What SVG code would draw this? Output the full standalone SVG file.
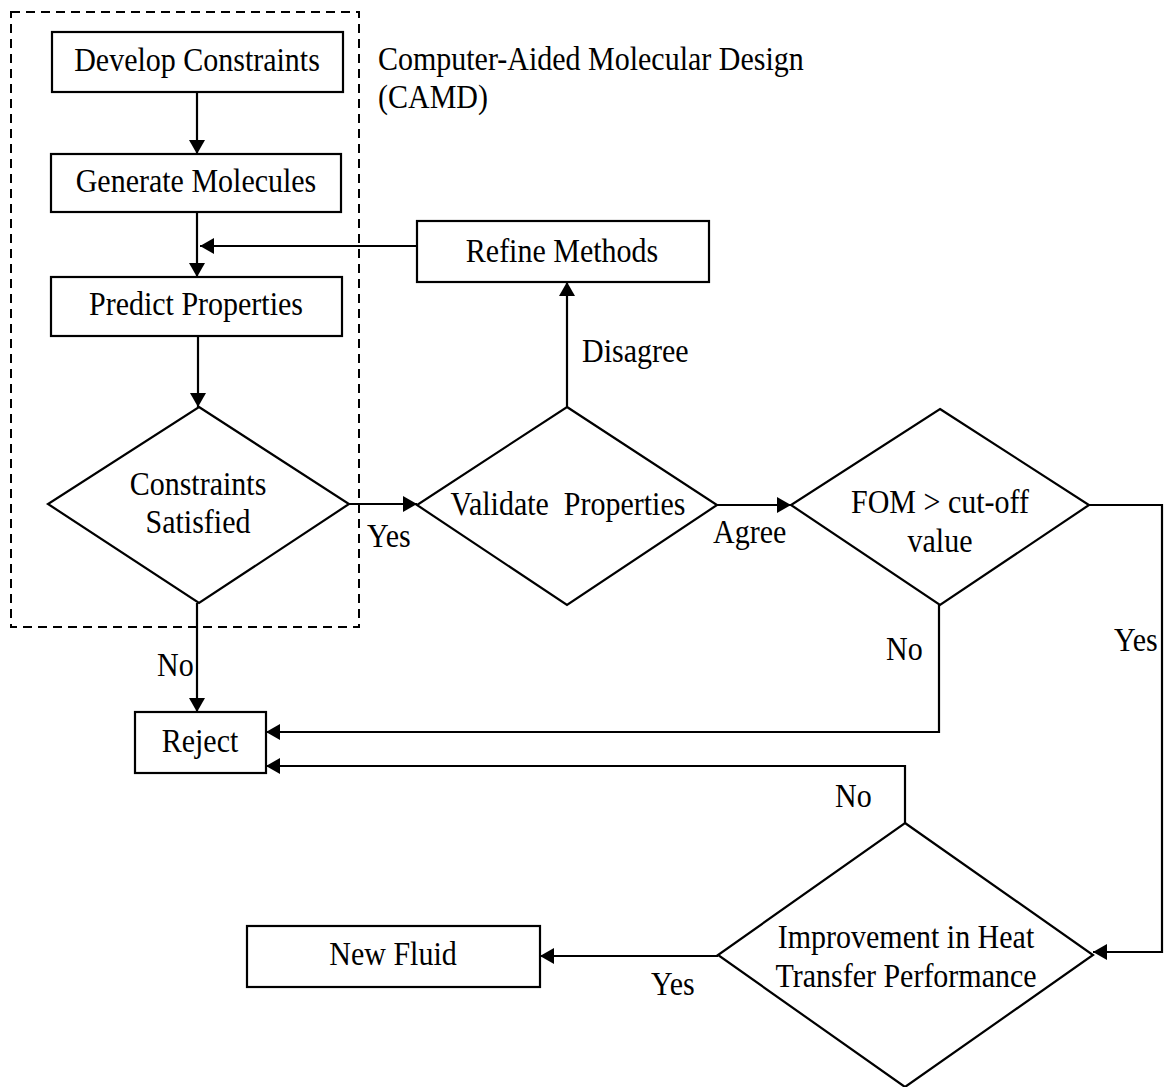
<svg xmlns="http://www.w3.org/2000/svg" width="1165" height="1087" viewBox="0 0 1165 1087">
<style>
.box{fill:#fff;stroke:#000;stroke-width:2.2}
.dia{fill:#fff;stroke:#000;stroke-width:2.2;stroke-linejoin:miter}
.ln{fill:none;stroke:#000;stroke-width:2.2}
.dash{fill:none;stroke:#000;stroke-width:2;stroke-dasharray:9 6}
text{font-family:"Liberation Serif","Times New Roman",serif;font-size:30px;fill:#000}
.c{text-anchor:middle}
</style>
<defs>
<marker id="ah" markerUnits="userSpaceOnUse" markerWidth="15" markerHeight="16" refX="14" refY="8" orient="auto">
<path d="M0,0 L14,8 L0,16 z" fill="#000"/>
</marker>
</defs>
<rect x="0" y="0" width="1165" height="1087" fill="#fff"/>
<g id="camd-region">
<rect class="dash" x="11" y="12" width="348" height="615"/>
<text transform="translate(378,70) scale(1,1.1)">Computer-Aided Molecular Design</text>
<text transform="translate(378,108) scale(1,1.1)">(CAMD)</text>
</g>
<g id="connectors">
<path class="ln" d="M197,92 V154" marker-end="url(#ah)"/>
<path class="ln" d="M197,212 V277" marker-end="url(#ah)"/>
<path class="ln" d="M417,246 H200" marker-end="url(#ah)"/>
<path class="ln" d="M198,336 V407" marker-end="url(#ah)"/>
<path class="ln" d="M349,504 H417" marker-end="url(#ah)"/>
<path class="ln" d="M197,603 V712" marker-end="url(#ah)"/>
<path class="ln" d="M567,407 V282" marker-end="url(#ah)"/>
<path class="ln" d="M717,505 H791" marker-end="url(#ah)"/>
<path class="ln" d="M939,605 V732 H266" marker-end="url(#ah)"/>
<path class="ln" d="M1089,505 H1162 V952 H1093" marker-end="url(#ah)"/>
<path class="ln" d="M905,823 V766 H266" marker-end="url(#ah)"/>
<path class="ln" d="M718,956 H540" marker-end="url(#ah)"/>
<text transform="translate(367,547) scale(1,1.1)">Yes</text>
<text transform="translate(157,676) scale(1,1.1)">No</text>
<text transform="translate(582,362) scale(1,1.1)">Disagree</text>
<text transform="translate(713,543) scale(1,1.1)">Agree</text>
<text transform="translate(886,660) scale(1,1.1)">No</text>
<text transform="translate(1114,651) scale(1,1.1)">Yes</text>
<text transform="translate(835,807) scale(1,1.1)">No</text>
<text transform="translate(651,995) scale(1,1.1)">Yes</text>
</g>
<g id="develop-constraints">
<rect class="box" x="52" y="32" width="291" height="60"/>
<text class="c" transform="translate(197,71) scale(1,1.1)">Develop Constraints</text>
</g>
<g id="generate-molecules">
<rect class="box" x="51" y="154" width="290" height="58"/>
<text class="c" transform="translate(196,192) scale(1,1.1)">Generate Molecules</text>
</g>
<g id="predict-properties">
<rect class="box" x="51" y="277" width="291" height="59"/>
<text class="c" transform="translate(196,315) scale(1,1.1)">Predict Properties</text>
</g>
<g id="constraints-satisfied">
<polygon class="dia" points="199,407 349,504 199,603 48,504"/>
<text class="c" transform="translate(198,495) scale(1,1.1)">Constraints</text>
<text class="c" transform="translate(198,533) scale(1,1.1)">Satisfied</text>
</g>
<g id="refine-methods">
<rect class="box" x="417" y="221" width="292" height="61"/>
<text class="c" transform="translate(562,262) scale(1,1.1)">Refine Methods</text>
</g>
<g id="validate-properties">
<polygon class="dia" points="567,407 717,505 567,605 417,505"/>
<text class="c" transform="translate(568,515) scale(1,1.1)" xml:space="preserve">Validate  Properties</text>
</g>
<g id="fom-cutoff">
<polygon class="dia" points="940,409 1089,505 940,605 791,505"/>
<text class="c" transform="translate(940,513) scale(1,1.1)">FOM &gt; cut-off</text>
<text class="c" transform="translate(940,552) scale(1,1.1)">value</text>
</g>
<g id="reject">
<rect class="box" x="135" y="712" width="131" height="61"/>
<text class="c" transform="translate(200,752) scale(1,1.1)">Reject</text>
</g>
<g id="improvement">
<polygon class="dia" points="905,823 1093,955 905,1087 718,955"/>
<text class="c" transform="translate(906,948) scale(1,1.1)">Improvement in Heat</text>
<text class="c" transform="translate(906,987) scale(1,1.1)">Transfer Performance</text>
</g>
<g id="new-fluid">
<rect class="box" x="247" y="926" width="293" height="61"/>
<text class="c" transform="translate(393,965) scale(1,1.1)">New Fluid</text>
</g>
</svg>
